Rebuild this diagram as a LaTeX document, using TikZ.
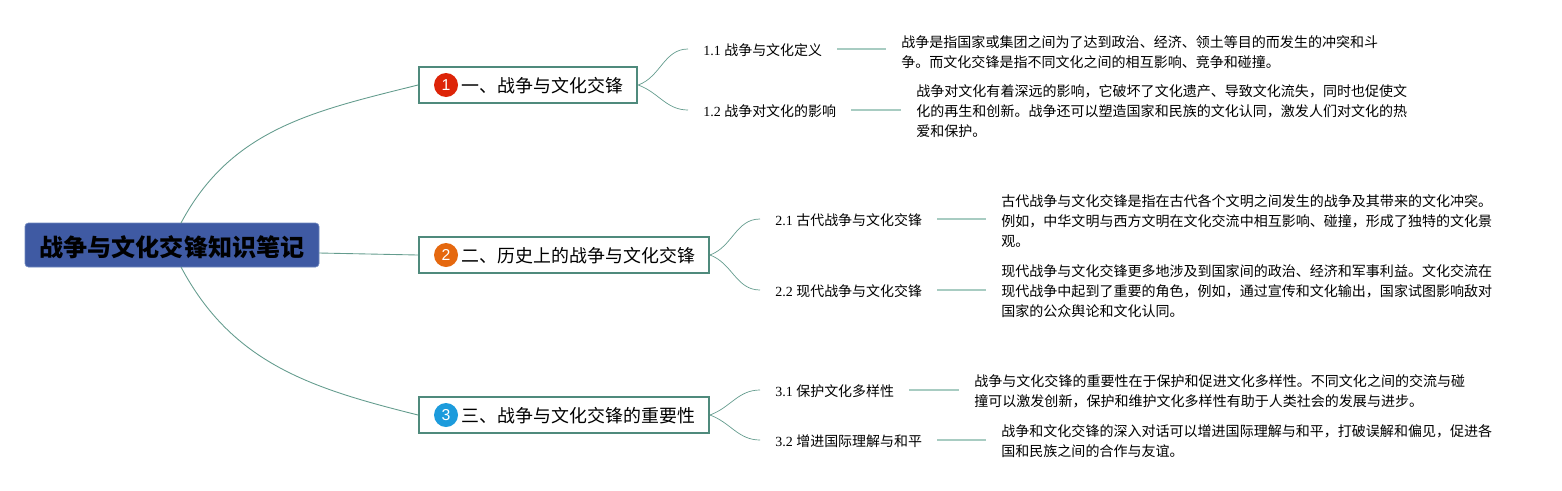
\documentclass[tikz,border=0pt]{standalone}
\usepackage{fontspec}
\setmainfont{Liberation Serif}
\setsansfont{Liberation Sans}
\newfontfamily\cjk{Noto Sans CJK SC}
\usetikzlibrary{positioning}
\definecolor{rootblue}{HTML}{3F5AA3}
\definecolor{rootedge}{HTML}{6F87BE}
\definecolor{boxgreen}{HTML}{4F8A7C}
\definecolor{curvegreen}{HTML}{649C8E}
\definecolor{palegreen}{HTML}{A8CCC2}
\definecolor{onered}{HTML}{DD2408}
\definecolor{twoorange}{HTML}{E5680F}
\definecolor{threeblue}{HTML}{1C9BDC}
\tikzset{
  rootbox/.style={draw=rootedge, fill=rootblue, rounded corners=2pt, minimum width=5.88cm, minimum height=0.88cm, inner sep=0pt, text height=14.4pt, text depth=1.6pt, font=\fontsize{13.7pt}{16pt}\cjk\bfseries},
  topicbox/.style={draw=boxgreen, line width=1.1pt, fill=white, anchor=west, minimum height=0.72cm, inner xsep=0.28cm, inner ysep=0pt, text height=10.4pt, text depth=1.5pt, font=\fontsize{10.2pt}{12pt}\cjk},
  badge/.style={circle, minimum size=0.48cm, inner sep=0pt, text=white, font=\fontsize{9pt}{10pt}\sffamily},
  subtopic/.style={anchor=west, inner xsep=0.3cm, inner ysep=0pt, text height=9.2pt, text depth=2pt, font=\fontsize{7.95pt}{10pt}\selectfont},
  detail/.style={anchor=west, align=left, inner xsep=0.3cm, inner ysep=0pt, font=\fontsize{7.98pt}{11.55pt}\cjk},
  bigcurve/.style={curvegreen, line width=0.5pt},
  smallcurve/.style={curvegreen, line width=0.4pt},
  paleline/.style={palegreen, line width=0.8pt}
}
\begin{document}
\begin{tikzpicture}
\useasboundingbox (0,0) rectangle (31.24,9.8);
\node [rootbox] (root) at (3.44,4.9) {战争与文化交锋知识笔记};
\coordinate (rootup) at (3.62,5.34);
\coordinate (rootright) at (6.38,4.74);
\coordinate (rootdown) at (3.62,4.46);

\node [topicbox] (topicone) at (8.36,8.1) {\hspace*{0.58cm}一、战争与文化交锋};
\node [topicbox] (topictwo) at (8.36,4.7) {\hspace*{0.58cm}二、历史上的战争与文化交锋};
\node [topicbox] (topicthree) at (8.36,1.5) {\hspace*{0.58cm}三、战争与文化交锋的重要性};
\node [badge, fill=onered] (badgeone) at ([xshift=0.56cm]topicone.west) {1};
\node [badge, fill=twoorange] (badgetwo) at ([xshift=0.56cm]topictwo.west) {2};
\node [badge, fill=threeblue] (badgethree) at ([xshift=0.56cm]topicthree.west) {3};

\node [subtopic] (subone) at (13.76,8.82) {1.1 {\cjk 战争与文化定义}};
\node [subtopic] (subtwo) at (13.76,7.6) {1.2 {\cjk 战争对文化的影响}};
\node [subtopic] (subthree) at (15.2,5.42) {2.1 {\cjk 古代战争与文化交锋}};
\node [subtopic] (subfour) at (15.2,4.0) {2.2 {\cjk 现代战争与文化交锋}};
\node [subtopic] (subfive) at (15.2,2.0) {3.1 {\cjk 保护文化多样性}};
\node [subtopic] (subsix) at (15.2,1.0) {3.2 {\cjk 增进国际理解与和平}};

\node [detail] (detailone) at (17.72,8.76) {战争是指国家或集团之间为了达到政治、经济、领土等目的而发生的冲突和斗\\争。而文化交锋是指不同文化之间的相互影响、竞争和碰撞。};
\node [detail] (detailtwo) at (18.02,7.58) {战争对文化有着深远的影响，它破坏了文化遗产、导致文化流失，同时也促使文\\化的再生和创新。战争还可以塑造国家和民族的文化认同，激发人们对文化的热\\爱和保护。};
\node [detail] (detailthree) at (19.72,5.38) {古代战争与文化交锋是指在古代各个文明之间发生的战争及其带来的文化冲突。\\例如，中华文明与西方文明在文化交流中相互影响、碰撞，形成了独特的文化景\\观。};
\node [detail] (detailfour) at (19.72,3.98) {现代战争与文化交锋更多地涉及到国家间的政治、经济和军事利益。文化交流在\\现代战争中起到了重要的角色，例如，通过宣传和文化输出，国家试图影响敌对\\国家的公众舆论和文化认同。};
\node [detail] (detailfive) at (19.18,1.98) {战争与文化交锋的重要性在于保护和促进文化多样性。不同文化之间的交流与碰\\撞可以激发创新，保护和维护文化多样性有助于人类社会的发展与进步。};
\node [detail] (detailsix) at (19.72,0.98) {战争和文化交锋的深入对话可以增进国际理解与和平，打破误解和偏见，促进各\\国和民族之间的合作与友谊。};

\draw [bigcurve] (rootup) to [out=62, in=194] (topicone.west);
\draw [bigcurve] (rootright) -- (topictwo.west);
\draw [bigcurve] (rootdown) to [out=-62, in=166] (topicthree.west);

\draw [smallcurve] (topicone.east) to [out=20, in=180] (subone.west);
\draw [smallcurve] (topicone.east) to [out=-20, in=180] (subtwo.west);
\draw [smallcurve] (topictwo.east) to [out=20, in=180] (subthree.west);
\draw [smallcurve] (topictwo.east) to [out=-20, in=180] (subfour.west);
\draw [smallcurve] (topicthree.east) to [out=20, in=180] (subfive.west);
\draw [smallcurve] (topicthree.east) to [out=-20, in=180] (subsix.west);

\draw [paleline] (subone.east) -- (subone.east -| detailone.west);
\draw [paleline] (subtwo.east) -- (subtwo.east -| detailtwo.west);
\draw [paleline] (subthree.east) -- (subthree.east -| detailthree.west);
\draw [paleline] (subfour.east) -- (subfour.east -| detailfour.west);
\draw [paleline] (subfive.east) -- (subfive.east -| detailfive.west);
\draw [paleline] (subsix.east) -- (subsix.east -| detailsix.west);
\end{tikzpicture}
\end{document}
